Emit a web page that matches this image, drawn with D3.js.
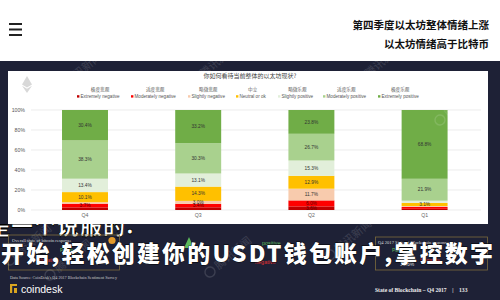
<!DOCTYPE html>
<html><head><meta charset="utf-8">
<script src="https://cdn.jsdelivr.net/npm/d3@7"></script>
<style>
html,body{margin:0;padding:0;background:#fff;}
svg{display:block;}
</style></head>
<body>
<svg id="c" width="500" height="300"></svg>
<script>
// ---- data ----
const quarters = ["Q4","Q3","Q2","Q1"];
const seriesKeys = ["Extremely negative","Moderately negative","Slightly negative","Neutral or ok","Slightly positive","Moderately positive","Extremely positive"];
const seriesZh = ["极度悲观","适度悲观","略微悲观","中立","略微乐观","适度乐观","极度乐观"];
const extremelyNegative = [2.6, 2.7, 3.6, 1.2];
const moderatelyNegative = [3.7, 3.4, 6.0, 1.8];
const slightlyNegative = [1.5, 3.0, 11.7, 1.0];
const neutralOk = [10.1, 14.3, 12.9, 3.1];
const slightlyPositive = [13.4, 13.1, 15.3, 2.2];
const moderatelyPositive = [38.3, 30.3, 26.7, 21.9];
const extremelyPositive = [30.4, 33.2, 23.8, 68.8];
const yTicks = [0, 20, 40, 60, 80, 100];
const seriesColors = ["#c00000","#ff0000","#f8cbad","#ffc000","#e2efda","#a9d18e","#70ad47"];
const headerLines = ["第四季度以太坊整体情绪上涨","以太坊情绪高于比特币"];
const chartTitle = "你如何看待当前整体的以太坊现状?";
const overlayLine1 = "是一个说服的.";
const overlayLine2 = "开始,轻松创建你的USDT钱包账户,掌控数字";

const seriesValues = [extremelyNegative, moderatelyNegative, slightlyNegative, neutralOk, slightlyPositive, moderatelyPositive, extremelyPositive];
const rows = quarters.map((q, i) => {
  const r = {q};
  seriesKeys.forEach((k, j) => r[k] = seriesValues[j][i]);
  return r;
});

const svg = d3.select("#c");
const NAVY = "#1e2136";

// header
svg.append("rect").attr("x",0).attr("y",0).attr("width",500).attr("height",61).attr("fill","#fff");
[24,29.5,35].forEach(y => svg.append("rect").attr("x",9).attr("y",y-1).attr("width",13).attr("height",2).attr("fill","#222"));
svg.selectAll("text.hd").data(headerLines).join("text").attr("class","hd")
  .attr("x",489).attr("y",(d,i)=>29+i*19).attr("text-anchor","end")
  .attr("font-family","Noto Sans CJK SC").attr("font-weight","bold").attr("font-size",10.5).attr("fill","#111").text(d=>d);

// dark band
svg.append("rect").attr("x",0).attr("y",61).attr("width",500).attr("height",239).attr("fill",NAVY);

// overlay line 1 (clipped below panel)
svg.append("clipPath").attr("id","clip1").append("rect").attr("x",0).attr("y",224).attr("width",500).attr("height",20);
svg.append("text").attr("clip-path","url(#clip1)")
  .attr("x",-12).attr("y",234).attr("font-family","Noto Sans CJK SC").attr("font-weight",900)
  .attr("font-size",22).attr("letter-spacing",1).attr("fill","#fff").attr("stroke","#000").attr("stroke-width",0.8)
  .text(overlayLine1);

// white panel
svg.append("rect").attr("x",8).attr("y",71).attr("width",480).attr("height",153).attr("fill","#fff");

// ethereum faint logo
const eth = svg.append("g").attr("fill","#d8d8d8");
eth.append("path").attr("d","M27,76 L32,84.5 L27,87.5 L22,84.5 Z");
eth.append("path").attr("d","M27,88.7 L32,85.8 L27,93 L22,85.8 Z");

// chart title
svg.append("text").attr("x",250).attr("y",78).attr("text-anchor","middle")
  .attr("font-family","Noto Sans CJK SC").attr("font-size",6).attr("fill","#444").text(chartTitle);

// legend
const legendX = [77,131,188,236,278,323,378];
const lg = svg.selectAll("g.lg").data(seriesKeys).join("g").attr("class","lg")
  .attr("transform",(d,i)=>`translate(${legendX[i]},0)`);
lg.append("rect").attr("x",0).attr("y",95.2).attr("width",2.4).attr("height",2.4).attr("fill",(d,i)=>seriesColors[i]);
lg.append("text").attr("x",3.5).attr("y",97.8).attr("font-family","Liberation Sans").attr("font-size",4.6).attr("fill","#555").text(d=>d);
lg.append("text").attr("x",function(d){return 3.5 + this.previousSibling.getComputedTextLength()/2;})
  .attr("y",91).attr("text-anchor","middle").attr("font-family","Noto Sans CJK SC").attr("font-size",4.6).attr("fill","#555")
  .text((d,i)=>seriesZh[i]);

// scales
const y = d3.scaleLinear().domain([0,100]).range([210,110]);
const x = d3.scaleBand().domain(quarters).range([28.4,481.2]).paddingInner(0.594).paddingOuter(0.297);

// grid
svg.append("g").selectAll("line").data(yTicks).join("line")
  .attr("x1",31).attr("x2",481).attr("y1",d=>y(d)).attr("y2",d=>y(d))
  .attr("stroke","#e4e4e4").attr("stroke-width",0.7);

// y axis labels
const yAxis = d3.axisLeft(y).tickValues(yTicks).tickFormat(d=>d+"%").tickSize(0).tickPadding(0);
const ya = svg.append("g").attr("transform","translate(25,0)").call(yAxis);
ya.select(".domain").remove();
ya.selectAll("text").attr("font-family","Liberation Sans").attr("font-size",5.2).attr("fill","#555");

// x axis labels
const xAxis = d3.axisBottom(x).tickSize(0).tickPadding(0);
const xa = svg.append("g").attr("transform","translate(0,213)").call(xAxis);
xa.select(".domain").remove();
xa.selectAll("text").attr("font-family","Liberation Sans").attr("font-size",5.2).attr("fill","#666");

// bars
const stacked = d3.stack().keys(seriesKeys)(rows);
const layer = svg.append("g").selectAll("g").data(stacked).join("g").attr("fill",(d,i)=>seriesColors[i]);
layer.selectAll("rect").data(d=>d).join("rect")
  .attr("x",d=>x(d.data.q)).attr("width",x.bandwidth())
  .attr("y",d=>y(d[1])).attr("height",d=>y(d[0])-y(d[1]));

// value labels
const lab = svg.append("g");
stacked.forEach((s,i)=>{
  s.forEach(d=>{
    const v = d[1]-d[0];
    if (v >= 3) {
      lab.append("text").attr("x",x(d.data.q)+x.bandwidth()/2).attr("y",y((d[0]+d[1])/2)+1.7)
        .attr("text-anchor","middle").attr("font-family","Liberation Sans").attr("font-size",4.8)
        .attr("fill", i<2 ? "#5a0000" : "#333").text(v.toFixed(1)+"%");
    }
  });
});

// bottom boxes
svg.append("rect").attr("x",8.5).attr("y",235).attr("width",111).attr("height",35).attr("fill","none").attr("stroke","#7d6b3c").attr("stroke-width",0.8);
svg.append("text").attr("x",12).attr("y",242).attr("font-family","Liberation Serif").attr("font-size",4.6).attr("fill","#ddd").text("Overall state of bitcoin response");
svg.append("circle").attr("cx",112).attr("cy",240.5).attr("r",3.6).attr("fill","#e39a2a");
svg.append("text").attr("x",60).attr("y",252).attr("font-family","Liberation Sans").attr("font-size",5).attr("fill","#5cb85c").text("Positive");
svg.append("text").attr("x",38).attr("y",262).attr("font-family","Liberation Sans").attr("font-size",5).attr("fill","#e03030").text("Negative");

svg.append("rect").attr("x",375.5).attr("y",237).attr("width",112).attr("height",33).attr("fill","none").attr("stroke","#7d6b3c").attr("stroke-width",0.8);
svg.append("text").attr("x",378).attr("y",244).attr("font-family","Liberation Serif").attr("font-size",4.6).attr("fill","#ddd").text("Q4 2017 State of Blockchain response");
svg.append("text").attr("x",392).attr("y",252).attr("font-family","Liberation Sans").attr("font-size",5).attr("fill","#5cb85c").text("Positive");
svg.append("text").attr("x",400).attr("y",266).attr("font-family","Liberation Sans").attr("font-size",5).attr("fill","#ddd").text("13.6%");
svg.append("text").attr("x",420).attr("y",262).attr("font-family","Liberation Sans").attr("font-size",5).attr("fill","#e03030").text("Negative");

// middle green arrow & red text
svg.append("path").attr("d","M189,237 L194,248 L184,248 Z").attr("fill","#5cb85c");
svg.append("text").attr("x",262).attr("y",245).attr("font-family","Liberation Sans").attr("font-size",5.5).attr("fill","#5cb85c").text("positive");
svg.append("text").attr("x",255).attr("y",264).attr("font-family","Liberation Sans").attr("font-size",5.5).attr("fill","#e03030").text("negative");

// watermarks
const wm = [[60,88],[195,80],[360,80],[50,275],[210,272],[330,255],[440,120],[10,260]];
wm.forEach(([wx,wy])=>{
  const g = svg.append("g").attr("transform",`translate(${wx},${wy}) rotate(-40)`).attr("opacity",0.13);
  g.append("circle").attr("cx",0).attr("cy",0).attr("r",5).attr("fill","none").attr("stroke","#fff").attr("stroke-width",1.4);
  g.append("text").attr("x",8).attr("y",4).attr("font-family","Noto Sans CJK SC").attr("font-size",11).attr("fill","#fff").text("腾讯新闻");
});

// overlay line 2
svg.append("text").attr("x",1).attr("y",262).attr("textLength",492).attr("lengthAdjust","spacing")
  .attr("font-family","Noto Sans CJK SC").attr("font-weight",900)
  .attr("font-size",23).attr("fill","#fff").attr("stroke","#000").attr("stroke-width",0.8)
  .attr("paint-order","stroke")
  .text(overlayLine2);

// footer
svg.append("text").attr("x",10).attr("y",279).attr("textLength",107).attr("lengthAdjust","spacingAndGlyphs")
  .attr("font-family","Liberation Serif").attr("font-size",4.2).attr("fill","#ccc")
  .text("Data Source: CoinDesk's Q4 2017 Blockchain Sentiment Survey");
svg.append("path").attr("d","M10,284 H17 V286 H12.2 V293 H10 Z M14,288 H17 V293 H14 Z").attr("fill","#d9a520");
svg.append("text").attr("x",21).attr("y",293).attr("font-family","Liberation Sans").attr("font-size",10.5).attr("fill","#fff").text("coindesk");
svg.append("text").attr("x",375).attr("y",292).attr("font-family","Liberation Serif").attr("font-weight","bold").attr("font-size",5.6).attr("fill","#eee")
  .attr("xml:space","preserve").text("State of Blockchain – Q4 2017    |    133");
</script>
</body></html>
